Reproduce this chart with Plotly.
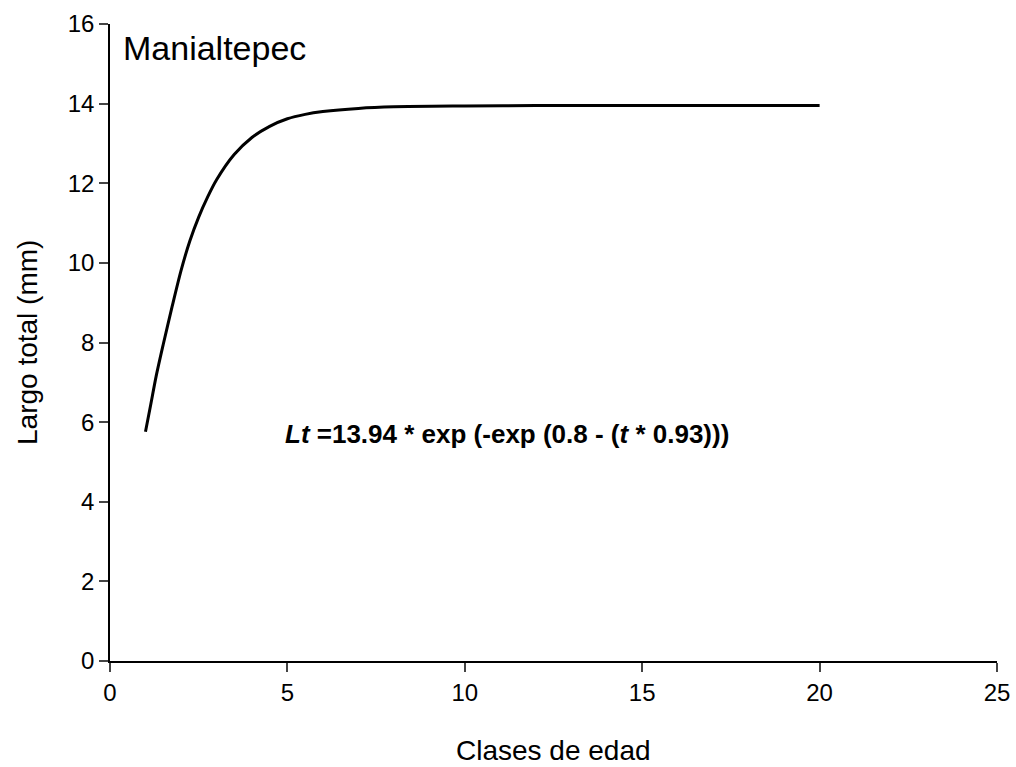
import plotly.graph_objects as go

# Age classes (t) and total length (mm)
edad = [1.0, 1.15, 1.3, 1.5, 1.75, 2.0, 2.25, 2.5, 2.75, 3.0, 3.5, 4.0, 4.5, 5.0, 5.5, 6.0, 7.0, 8.0, 10.0, 12.0, 15.0, 20.0]
largo = [5.76, 6.45, 7.15, 7.95, 8.90, 9.80, 10.55, 11.15, 11.65, 12.08, 12.72, 13.15, 13.43, 13.62, 13.73, 13.80, 13.88, 13.92, 13.94, 13.95, 13.95, 13.95]

x_ticks = [0, 5, 10, 15, 20, 25]
y_ticks = [0, 2, 4, 6, 8, 10, 12, 14, 16]

font = "Liberation Sans, Arial, sans-serif"

fig = go.Figure()
fig.add_trace(go.Scatter(x=edad, y=largo, mode="lines",
                         line=dict(color="black", width=3, shape="spline", smoothing=0.8),
                         showlegend=False, hoverinfo="skip"))

fig.add_annotation(x=0.3, y=15.4, xref="x", yref="y", xanchor="left", yanchor="middle",
                   text="Manialtepec", showarrow=False, font=dict(family=font, size=34, color="black"))
fig.add_annotation(x=11.2, y=5.7, xref="x", yref="y", xanchor="center", yanchor="middle",
                   text="<b><i>Lt</i> =13.94 * exp (-exp (0.8 - (<i>t</i> * 0.93)))</b>",
                   showarrow=False, font=dict(family=font, size=26, color="black"))

# Axis titles
fig.add_annotation(x=0.5, y=-0.141, xref="paper", yref="paper", xanchor="center", yanchor="middle",
                   text="Clases de edad", showarrow=False, font=dict(family=font, size=28, color="black"))
fig.add_annotation(x=-0.093, y=0.5, xref="paper", yref="paper", xanchor="center", yanchor="middle",
                   text="Largo total (mm)", textangle=-90, showarrow=False,
                   font=dict(family=font, size=28, color="black"))

fig.update_xaxes(range=[0, 25], tickvals=x_ticks, ticks="outside", ticklen=9, tickwidth=1.5,
                 showline=True, linecolor="black", linewidth=1.5, showgrid=False, zeroline=False,
                 automargin=False, tickfont=dict(family=font, size=24, color="black"))
fig.update_yaxes(range=[0, 16], tickvals=y_ticks, ticks="outside", ticklen=9, tickwidth=1.5,
                 showline=True, linecolor="black", linewidth=1.5, showgrid=False, zeroline=False,
                 automargin=False, tickfont=dict(family=font, size=24, color="black"))

fig.update_layout(width=1016, height=767, margin=dict(l=110, r=19, t=24, b=106),
                  plot_bgcolor="white", paper_bgcolor="white")

fig.write_html("out.html")
